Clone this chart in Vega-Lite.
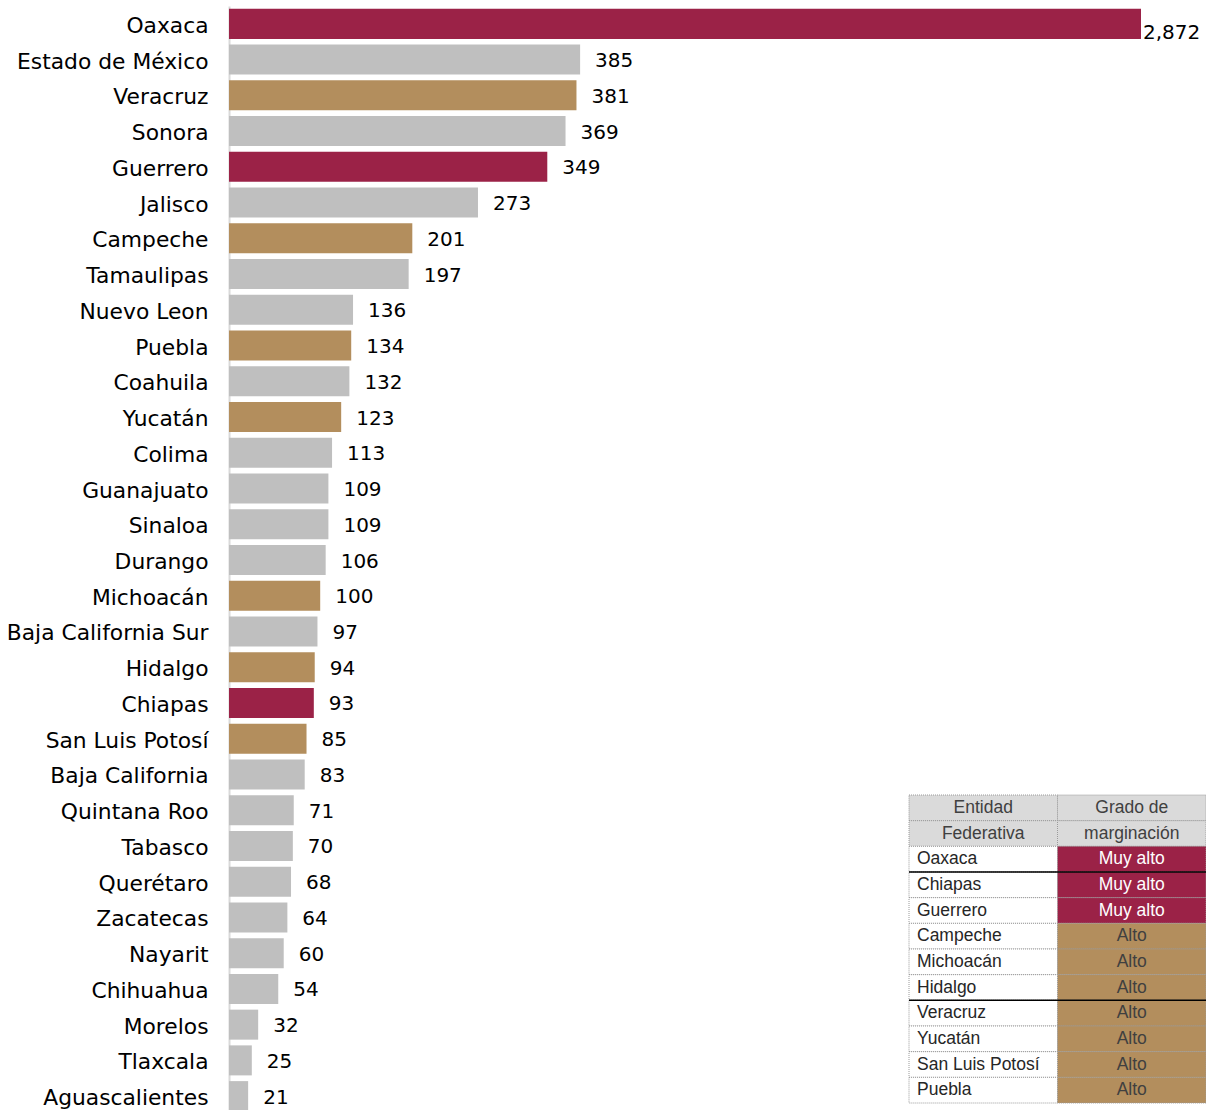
{
  "$schema": "https://vega.github.io/schema/vega-lite/v6.json",
  "width": 912,
  "height": 1108,
  "autosize": {"type": "none"},
  "padding": {"left": 229, "top": 6, "right": 65, "bottom": 0},
  "background": "white",
  "config": {"view": {"stroke": null}},
  "datasets": {
    "bars": [
      {"estado": "Oaxaca", "v": 2872, "g": "Muy alto"},
      {"estado": "Estado de México", "v": 385, "g": "Otro"},
      {"estado": "Veracruz", "v": 381, "g": "Alto"},
      {"estado": "Sonora", "v": 369, "g": "Otro"},
      {"estado": "Guerrero", "v": 349, "g": "Muy alto"},
      {"estado": "Jalisco", "v": 273, "g": "Otro"},
      {"estado": "Campeche", "v": 201, "g": "Alto"},
      {"estado": "Tamaulipas", "v": 197, "g": "Otro"},
      {"estado": "Nuevo Leon", "v": 136, "g": "Otro"},
      {"estado": "Puebla", "v": 134, "g": "Alto"},
      {"estado": "Coahuila", "v": 132, "g": "Otro"},
      {"estado": "Yucatán", "v": 123, "g": "Alto"},
      {"estado": "Colima", "v": 113, "g": "Otro"},
      {"estado": "Guanajuato", "v": 109, "g": "Otro"},
      {"estado": "Sinaloa", "v": 109, "g": "Otro"},
      {"estado": "Durango", "v": 106, "g": "Otro"},
      {"estado": "Michoacán", "v": 100, "g": "Alto"},
      {"estado": "Baja California Sur", "v": 97, "g": "Otro"},
      {"estado": "Hidalgo", "v": 94, "g": "Alto"},
      {"estado": "Chiapas", "v": 93, "g": "Muy alto"},
      {"estado": "San Luis Potosí", "v": 85, "g": "Alto"},
      {"estado": "Baja California", "v": 83, "g": "Otro"},
      {"estado": "Quintana Roo", "v": 71, "g": "Otro"},
      {"estado": "Tabasco", "v": 70, "g": "Otro"},
      {"estado": "Querétaro", "v": 68, "g": "Otro"},
      {"estado": "Zacatecas", "v": 64, "g": "Otro"},
      {"estado": "Nayarit", "v": 60, "g": "Otro"},
      {"estado": "Chihuahua", "v": 54, "g": "Otro"},
      {"estado": "Morelos", "v": 32, "g": "Otro"},
      {"estado": "Tlaxcala", "v": 25, "g": "Otro"},
      {"estado": "Aguascalientes", "v": 21, "g": "Otro"}
    ],
    "tabla": [
      {"r": "h1", "c": "Entidad", "t": "Entidad", "k": "hdr"},
      {"r": "h1", "c": "Grado", "t": "Grado de", "k": "hdr"},
      {"r": "h2", "c": "Entidad", "t": "Federativa", "k": "hdr"},
      {"r": "h2", "c": "Grado", "t": "marginación", "k": "hdr"},
      {"r": "Oaxaca", "c": "Entidad", "t": "Oaxaca", "k": "blank"},
      {"r": "Oaxaca", "c": "Grado", "t": "Muy alto", "k": "Muy alto"},
      {"r": "Chiapas", "c": "Entidad", "t": "Chiapas", "k": "blank"},
      {"r": "Chiapas", "c": "Grado", "t": "Muy alto", "k": "Muy alto"},
      {"r": "Guerrero", "c": "Entidad", "t": "Guerrero", "k": "blank"},
      {"r": "Guerrero", "c": "Grado", "t": "Muy alto", "k": "Muy alto"},
      {"r": "Campeche", "c": "Entidad", "t": "Campeche", "k": "blank"},
      {"r": "Campeche", "c": "Grado", "t": "Alto", "k": "Alto"},
      {"r": "Michoacán", "c": "Entidad", "t": "Michoacán", "k": "blank"},
      {"r": "Michoacán", "c": "Grado", "t": "Alto", "k": "Alto"},
      {"r": "Hidalgo", "c": "Entidad", "t": "Hidalgo", "k": "blank"},
      {"r": "Hidalgo", "c": "Grado", "t": "Alto", "k": "Alto"},
      {"r": "Veracruz", "c": "Entidad", "t": "Veracruz", "k": "blank"},
      {"r": "Veracruz", "c": "Grado", "t": "Alto", "k": "Alto"},
      {"r": "Yucatán", "c": "Entidad", "t": "Yucatán", "k": "blank"},
      {"r": "Yucatán", "c": "Grado", "t": "Alto", "k": "Alto"},
      {"r": "San Luis Potosí", "c": "Entidad", "t": "San Luis Potosí", "k": "blank"},
      {"r": "San Luis Potosí", "c": "Grado", "t": "Alto", "k": "Alto"},
      {"r": "Puebla", "c": "Entidad", "t": "Puebla", "k": "blank"},
      {"r": "Puebla", "c": "Grado", "t": "Alto", "k": "Alto"}
    ],
    "lineas": [
      {"r": "Chiapas"},
      {"r": "Veracruz"}
    ]
  },
  "layer": [
    {
      "data": {"name": "bars"},
      "encoding": {
        "y": {
          "field": "estado",
          "type": "nominal",
          "sort": null,
          "scale": {"paddingInner": 0.16, "paddingOuter": 0.08},
          "axis": {
            "title": null,
            "ticks": false,
            "domain": true,
            "domainColor": "#d9d9d9",
            "domainWidth": 2,
            "labelFont": "DejaVu Sans",
            "labelFontSize": 21.8,
            "labelColor": "#000000",
            "labelPadding": 21,
            "labelOffset": 2,
            "labelLimit": 0
          }
        },
        "x": {
          "field": "v",
          "type": "quantitative",
          "scale": {"domain": [0, 1000], "clamp": true, "nice": false},
          "axis": null
        }
      },
      "layer": [
        {
          "mark": {"type": "bar"},
          "encoding": {
            "color": {
              "field": "g",
              "type": "nominal",
              "scale": {
                "domain": ["Muy alto", "Alto", "Otro", "hdr", "blank"],
                "range": ["#9b2247", "#b38e5d", "#bfbfbf", "#dadada", "#ffffff"]
              },
              "legend": null
            }
          }
        },
        {
          "transform": [{"filter": "datum.estado === 'Oaxaca'"}],
          "mark": {"type": "text", "align": "left", "baseline": "middle", "dx": 2, "dy": 9, "font": "DejaVu Sans", "fontSize": 20, "color": "#000000"},
          "encoding": {"text": {"field": "v", "type": "quantitative", "format": ","}}
        },
        {
          "transform": [{"filter": "datum.estado !== 'Oaxaca'"}],
          "mark": {"type": "text", "align": "left", "baseline": "middle", "dx": 15, "dy": 1.5, "font": "DejaVu Sans", "fontSize": 20, "color": "#000000"},
          "encoding": {"text": {"field": "v", "type": "quantitative", "format": ","}}
        }
      ]
    },
    {
      "layer": [
        {
          "data": {"name": "tabla"},
          "mark": {"type": "rect", "stroke": "#9a9a9a", "strokeWidth": 1, "strokeDash": [1, 1]},
          "encoding": {
            "y": {"field": "r", "type": "nominal", "sort": null, "axis": null,
              "scale": {"domain": ["h1", "h2", "Oaxaca", "Chiapas", "Guerrero", "Campeche", "Michoacán", "Hidalgo", "Veracruz", "Yucatán", "San Luis Potosí", "Puebla"], "range": [789, 1097], "paddingInner": 0, "paddingOuter": 0}},
            "x": {"field": "c", "type": "nominal", "axis": null,
              "scale": {"domain": ["Entidad", "Grado"], "range": [680, 977], "paddingInner": 0, "paddingOuter": 0}},
            "color": {
              "field": "k",
              "type": "nominal",
              "scale": {
                "domain": ["Muy alto", "Alto", "Otro", "hdr", "blank"],
                "range": ["#9b2247", "#b38e5d", "#bfbfbf", "#dadada", "#ffffff"]
              },
              "legend": null
            }
          }
        },
        {
          "data": {"name": "tabla"},
          "transform": [{"filter": "datum.c === 'Entidad' && datum.k !== 'hdr'"}],
          "mark": {"type": "text", "align": "left", "baseline": "middle", "dx": 8, "font": "Liberation Sans", "fontSize": 17.5, "color": "#262626"},
          "encoding": {
            "y": {"field": "r", "type": "nominal", "sort": null, "axis": null,
              "scale": {"domain": ["h1", "h2", "Oaxaca", "Chiapas", "Guerrero", "Campeche", "Michoacán", "Hidalgo", "Veracruz", "Yucatán", "San Luis Potosí", "Puebla"], "range": [789, 1097], "paddingInner": 0, "paddingOuter": 0}},
            "x": {"datum": 0, "type": "quantitative", "axis": null, "scale": {"domain": [0, 1], "range": [680, 977]}},
            "text": {"field": "t"}
          }
        },
        {
          "data": {"name": "tabla"},
          "transform": [{"filter": "datum.c === 'Grado' || datum.k === 'hdr'"}],
          "mark": {"type": "text", "align": "center", "baseline": "middle", "font": "Liberation Sans", "fontSize": 17.5},
          "encoding": {
            "y": {"field": "r", "type": "nominal", "sort": null, "axis": null,
              "scale": {"domain": ["h1", "h2", "Oaxaca", "Chiapas", "Guerrero", "Campeche", "Michoacán", "Hidalgo", "Veracruz", "Yucatán", "San Luis Potosí", "Puebla"], "range": [789, 1097], "paddingInner": 0, "paddingOuter": 0}},
            "x": {"field": "c", "type": "nominal", "axis": null,
              "scale": {"domain": ["Entidad", "Grado"], "range": [680, 977], "paddingInner": 0, "paddingOuter": 0}},
            "text": {"field": "t"},
            "color": {"condition": {"test": "datum.k === 'Muy alto'", "value": "#ffffff"}, "value": "#404040"}
          }
        },
        {
          "data": {"name": "lineas"},
          "mark": {"type": "rule", "color": "#000000", "strokeWidth": 1.5},
          "encoding": {
            "y": {"field": "r", "type": "nominal", "sort": null, "axis": null, "bandPosition": 0,
              "scale": {"domain": ["h1", "h2", "Oaxaca", "Chiapas", "Guerrero", "Campeche", "Michoacán", "Hidalgo", "Veracruz", "Yucatán", "San Luis Potosí", "Puebla"], "range": [789, 1097], "paddingInner": 0, "paddingOuter": 0}},
            "x": {"datum": 0, "type": "quantitative", "axis": null, "scale": {"domain": [0, 1], "range": [680, 977]}},
            "x2": {"datum": 1}
          }
        }
      ],
      "resolve": {"scale": {"x": "independent"}}
    }
  ],
  "resolve": {"scale": {"x": "independent", "y": "independent"}}
}
